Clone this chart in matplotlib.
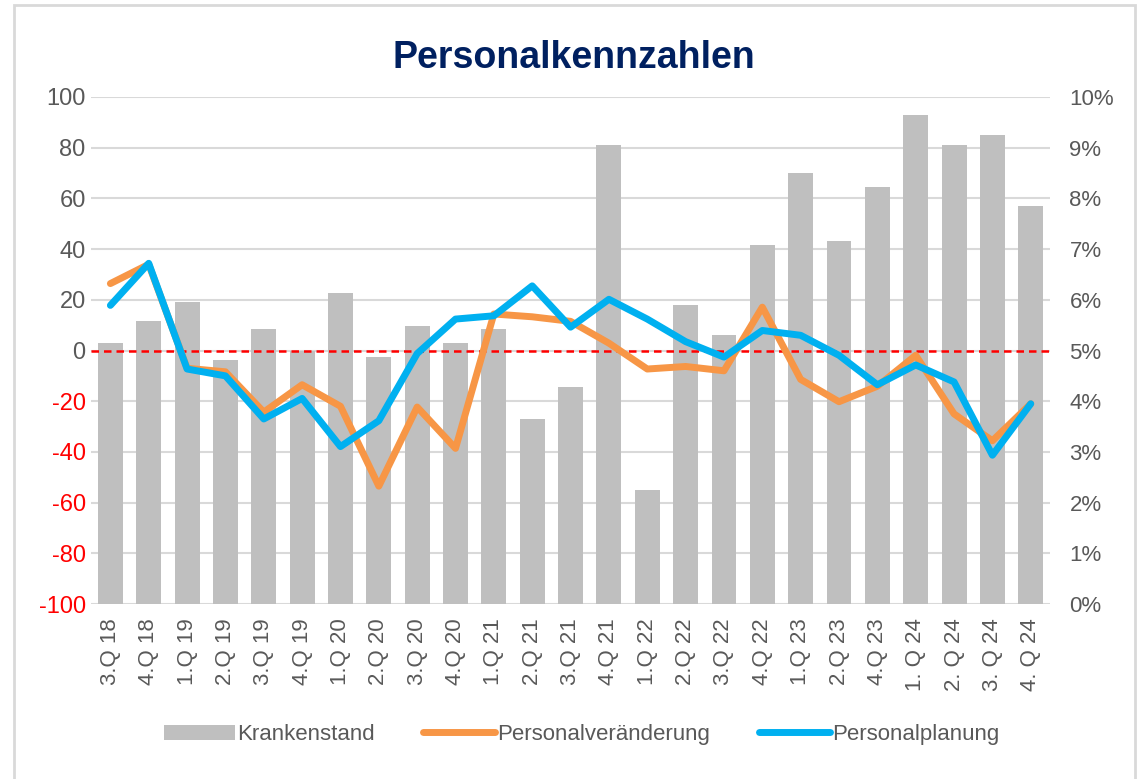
import numpy as np
import matplotlib.pyplot as plt
from matplotlib.patches import Rectangle

plt.rcParams['font.family'] = ['Liberation Sans', 'DejaVu Sans']
plt.rcParams['axes.unicode_minus'] = False

# Daten
quartale = ["3.Q 18", "4.Q 18", "1.Q 19", "2.Q 19", "3.Q 19", "4.Q 19",
            "1.Q 20", "2.Q 20", "3.Q 20", "4.Q 20", "1.Q 21", "2.Q 21",
            "3.Q 21", "4.Q 21", "1.Q 22", "2.Q 22", "3.Q 22", "4.Q 22",
            "1.Q 23", "2.Q 23", "4.Q 23", "1. Q 24", "2. Q 24", "3. Q 24", "4. Q 24"]
krankenstand = [5.14, 5.58, 5.96, 4.82, 5.43, 5.0, 6.13, 4.88, 5.48, 5.14,
                5.43, 3.64, 4.29, 9.05, 2.24, 5.90, 5.31, 7.09, 8.51, 7.16,
                8.23, 9.64, 9.05, 9.25, 7.85]
personalveraenderung = [26.4, 34, -7, -8.4, -24.3, -13.5, -22, -53.5, -22.3, -38.6,
                        14.4, 13.3, 11.5, 2.9, -7.3, -6.3, -8, 17.1, -11.4, -20.2,
                        -14.1, -1.9, -25, -35.6, -21]
personalplanung = [17.8, 34.4, -7.3, -10, -27, -18.9, -37.9, -27.7, -1.2, 12.4,
                   13.7, 25.5, 9.2, 20.2, 12.4, 3.5, -2.6, 7.9, 6, -1.9,
                   -13.5, -5.7, -12.4, -41.3, -21]

grau = "#595959"
x = np.arange(len(quartale))

fig = plt.figure(figsize=(11.4, 7.79), dpi=100)
fig.patches.append(Rectangle((14 / 1140, -0.01), (1135 - 14) / 1140, 1 - 5 / 779 + 0.01,
                             transform=fig.transFigure, fill=False,
                             edgecolor="#D9D9D9", linewidth=2))

ax = fig.add_axes([0.080, 0.2246, 0.841, 0.6509])
ax2 = ax.twinx()

# Balken auf rechter Achse, Linien auf linker Achse
ax2.bar(x, krankenstand, width=0.65, color="#BFBFBF", zorder=2, label="Krankenstand")
ax2.set_ylim(0, 10)
ax2.set_yticks(range(0, 11))
ax2.set_yticklabels([f"{v}%" for v in range(0, 11)])

ax.set_zorder(ax2.get_zorder() + 1)
ax.patch.set_visible(False)
ax.plot(x, personalveraenderung, color="#F79646", linewidth=5, solid_capstyle="round",
        label="Personalveränderung", zorder=3)
ax.plot(x, personalplanung, color="#00B0F0", linewidth=5, solid_capstyle="round",
        label="Personalplanung", zorder=4)
ax.axhline(0, color="red", linestyle=(0, (3, 2)), linewidth=1.8, zorder=2.5)
ax.set_ylim(-100, 100)
ax.set_yticks(range(-100, 101, 20))
ax.set_xlim(-0.5, len(quartale) - 0.5)
ax.set_xticks(x)
ax.set_xticklabels(quartale, rotation=90, fontsize=16, color=grau)

# Gitterlinien
for v in range(0, 11):
    ax2.axhline(v, color="#D9D9D9", linewidth=1.5, zorder=1)

for a in (ax, ax2):
    for s in a.spines.values():
        s.set_visible(False)
    a.tick_params(length=0)
ax.tick_params(axis="y", labelsize=17, pad=4)
ax.tick_params(axis="x", pad=10)
ax2.tick_params(axis="y", labelsize=16, labelcolor=grau, pad=14)
for lbl, v in zip(ax.get_yticklabels(), range(-100, 101, 20)):
    lbl.set_color("red" if v < 0 else grau)

fig.text(0.503, 0.925, "Personalkennzahlen", ha="center", va="center",
         fontsize=27, fontweight="bold", color="#002060")

# Legende
h1, l1 = ax2.get_legend_handles_labels()
h2, l2 = ax.get_legend_handles_labels()
fig.legend(h1 + h2, l1 + l2, loc="center", bbox_to_anchor=(0.51, 0.057), ncol=3,
           frameon=False, fontsize=16, labelcolor=grau, handlelength=3.2,
           handletextpad=0.1, columnspacing=2.2)

plt.savefig("out.png", dpi=100)
